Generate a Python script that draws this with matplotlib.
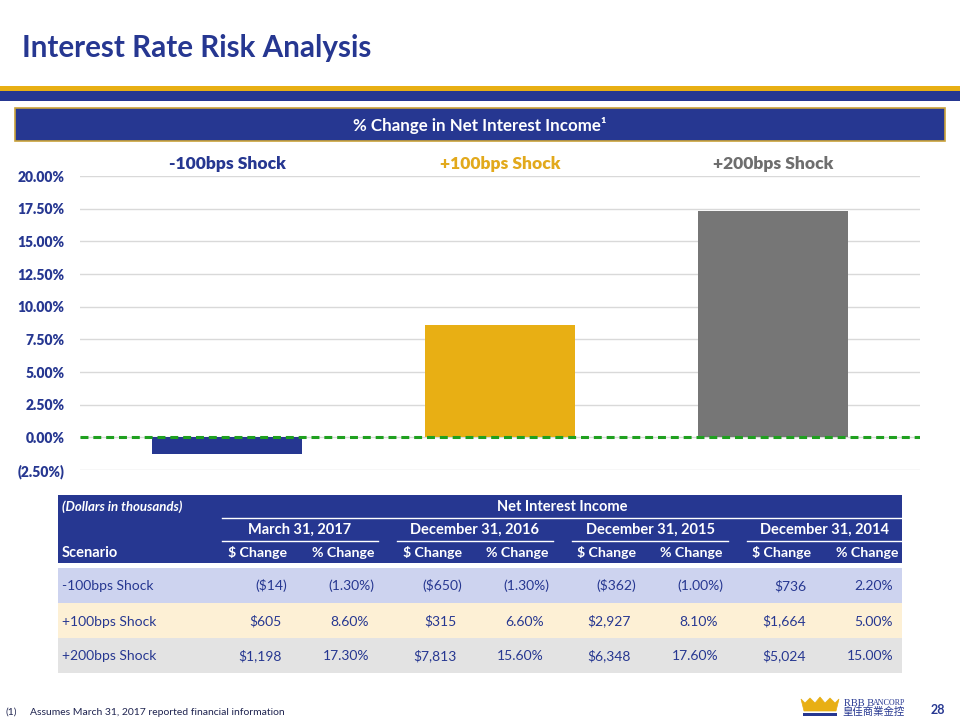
import matplotlib
matplotlib.use("Agg")
import matplotlib.pyplot as plt
from matplotlib.patches import Rectangle, Polygon
from matplotlib.ticker import FixedLocator, FuncFormatter

# ---------------- data ----------------
scenarios = ["-100bps Shock", "+100bps Shock", "+200bps Shock"]
pct_change = [-1.30, 8.60, 17.30]
y_ticks = [-2.5, 0, 2.5, 5, 7.5, 10, 12.5, 15, 17.5, 20]

periods = ["March 31, 2017", "December 31, 2016", "December 31, 2015", "December 31, 2014"]
col_headers = ["$ Change", "% Change"]
row_m100 = ["($14)", "(1.30%)", "($650)", "(1.30%)", "($362)", "(1.00%)", "$736", "2.20%"]
row_p100 = ["$605", "8.60%", "$315", "6.60%", "$2,927", "8.10%", "$1,664", "5.00%"]
row_p200 = ["$1,198", "17.30%", "$7,813", "15.60%", "$6,348", "17.60%", "$5,024", "15.00%"]
table_rows = [row_m100, row_p100, row_p200]

title = "Interest Rate Risk Analysis"
box_title = "% Change in Net Interest Income\u00b9"
footnote = "Assumes March 31, 2017 reported financial information"

# ---------------- style ----------------
NAVY = "#263791"
GOLD = "#E8AF14"
GRAY = "#767676"
GREEN = "#1FA01F"
bar_colors = [NAVY, GOLD, GRAY]
label_colors = [NAVY, "#E2A91C", "#6E6E6E"]
row_colors = ["#CDD3EF", "#FDF0D5", "#E3E3E3"]
plt.rcParams["font.family"] = "Lato"

W, H = 960, 720
fig = plt.figure(figsize=(9.6, 7.2), dpi=100)

# background / overlay axes in pixel coordinates
bg = fig.add_axes([0, 0, 1, 1])
bg.set_xlim(0, W)
bg.set_ylim(H, 0)
bg.axis("off")


def txt(x, yc, s, size, **kw):
    """Place text so that its cap-height centre sits at pixel row yc."""
    px = size * 100 / 72.0
    return bg.text(x, yc + 0.36 * px, s, fontsize=size, va="baseline", **kw)


# title
txt(22, 46, title, 21.3, fontweight="bold", color=NAVY, ha="left")
# stripes
bg.add_patch(Rectangle((0, 86), W, 5, color=GOLD, lw=0))
bg.add_patch(Rectangle((0, 91), W, 10, color=NAVY, lw=0))
# header box
bg.add_patch(Rectangle((15, 108), 930, 33, facecolor=NAVY, edgecolor="#C9A23A", lw=1.2))
txt(480, 125, box_title, 12.2, fontweight="bold", color="white", ha="center")

# ---------------- chart ----------------
ax = fig.add_axes([80 / W, (H - 470) / H, 840 / W, (470 - 176) / H])
x = list(range(len(scenarios)))
ax.bar(x, pct_change, width=0.55, color=bar_colors, zorder=2)
ax.axhline(0, color=GREEN, lw=2.2, linestyle=(0, (2.6, 1.6)), zorder=3)
ax.set_xlim(-0.54, 2.54)
ax.set_ylim(min(y_ticks), max(y_ticks))
ax.yaxis.set_major_locator(FixedLocator(y_ticks))
ax.yaxis.set_major_formatter(FuncFormatter(lambda v, p: f"({abs(v):.2f}%)" if v < 0 else f"{v:.2f}%"))
ax.grid(axis="y", color="#D9D9D9", lw=1, zorder=0)
for s in ax.spines.values():
    s.set_visible(False)
ax.tick_params(axis="y", length=0, pad=11, labelsize=10, labelcolor=NAVY)
for t in ax.get_yticklabels():
    t.set_fontweight("heavy")
ax.set_xticks([])
for i, (lab, c) in enumerate(zip(scenarios, label_colors)):
    ax.text(i, 1.024, lab, transform=ax.get_xaxis_transform(), ha="center", va="baseline",
            fontsize=12.5, fontweight="heavy", color=c)

# ---------------- table ----------------
tx0, tx1 = 58, 902
bg.add_patch(Rectangle((tx0, 495), tx1 - tx0, 68, color=NAVY, lw=0))
txt(62, 506, "(Dollars in thousands)", 9.5, fontweight="bold", fontstyle="italic",
    color="white", ha="left")
txt(562, 506, "Net Interest Income", 10.5, fontweight="bold", color="white", ha="center")
bg.plot([222, tx1], [517.5, 517.5], color="white", lw=1)
txt(62, 552, "Scenario", 10.5, fontweight="bold", color="white", ha="left")

col_right = [287, 374, 462, 549, 636, 723, 811, 898]
for g, per in enumerate(periods):
    x0 = 222 + 175 * g
    txt(x0 + 78, 529, per, 10.5, fontweight="bold", color="white", ha="center")
    bg.plot([x0, x0 + 156], [540.5, 540.5], color="white", lw=1)
for j, xr in enumerate(col_right):
    txt(xr, 552, col_headers[j % 2], 10.2, fontweight="bold", color="white", ha="right")

for r, (row, rc, sc) in enumerate(zip(table_rows, row_colors, scenarios)):
    y0 = 568 + 35 * r
    bg.add_patch(Rectangle((tx0, y0), tx1 - tx0, 35, color=rc, lw=0))
    yc = y0 + 17.5
    txt(62, yc, sc, 10, color=NAVY, ha="left")
    for j, val in enumerate(row):
        off = 0 if val.endswith(")") else 5
        txt(col_right[j] - off, yc, val, 10, color=NAVY, ha="right")

# ---------------- footer ----------------
txt(5, 711, "(1)", 7.5, color="#1F2450", ha="left")
txt(30, 711, footnote, 7.5, color="#1F2450", ha="left")

crown = [(801, 699), (805, 703), (810, 698), (815, 703), (820, 697), (825, 703),
         (830, 698), (835, 703), (839, 699), (836, 711), (804, 711)]
bg.add_patch(Polygon(crown, closed=True, facecolor=GOLD, edgecolor=GOLD, lw=0.5))
bg.add_patch(Rectangle((803, 713), 34, 2.5, color=NAVY, lw=0))
txt(844, 702, "RBB B", 7.5, family="Liberation Serif", color=NAVY, ha="left")
txt(873, 702, "ANCORP", 5.8, family="Liberation Serif", color=NAVY, ha="left")
bg.text(842, 712, "\u7687\u4f73\u5546\u696d\u91d1\u63a7", fontsize=7.5,
        family=["Noto Sans CJK TC", "DejaVu Sans"], color=NAVY, va="center", ha="left")
txt(945, 710, "28", 9, fontweight="bold", color=NAVY, ha="right")

fig.savefig("out.png", dpi=100)
